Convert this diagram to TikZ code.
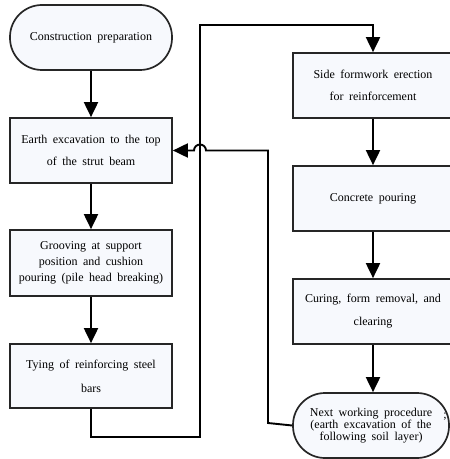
\documentclass[tikz,border=0pt]{standalone}
\usepackage{fontspec}
\setmainfont{Liberation Serif}
\usetikzlibrary{arrows.meta,shapes.misc}
\newcommand\mywsp{\spaceskip=5.5bp plus 2bp minus 1bp\relax}
\definecolor{boxfill}{RGB}{247,249,253}
\begin{document}
\begin{tikzpicture}[x=1bp,y=-1bp,
  box/.style={draw=black!85,line width=1.7bp,minimum width=162bp,align=center,
    fill=boxfill,inner sep=0pt},
  rbox/.style={box,minimum width=160bp},
  stad/.style={box,rounded corners=32bp},
  txt/.style={font=\fontsize{12bp}{#1bp}\selectfont\mywsp},
  conn/.style={line width=1.9bp,black},
  arr/.style={conn,-{Triangle[length=15bp,width=14bp]}}]
\useasboundingbox (0,0) rectangle (450,459);
% left column
\node[stad,minimum height=65bp,txt=14] (prep) at (91,37.5) {Construction preparation};
\node[box,minimum height=65bp,txt=22] (exc) at (91,150.5) {Earth excavation to the top\\of the strut beam};
\node[box,minimum height=66bp,txt=16] (groove) at (91,263) {Grooving at support\\position and cushion\\pouring (pile head breaking)};
\node[box,minimum height=64bp,txt=24] (tie) at (91,376) {Tying of reinforcing steel\\bars};
% right column
\node[rbox,minimum height=65bp,txt=22] (side) at (373,85.5) {Side formwork erection\\for reinforcement};
\node[rbox,minimum height=65bp,txt=22] (conc) at (373,198.5) {Concrete pouring};
\node[rbox,minimum height=65bp,txt=23] (cure) at (373,311.5) {Curing, form removal, and\\clearing};
\node[stad,minimum width=156bp,minimum height=65bp,txt=12] (next) at (371,425.5) {Next working procedure\\(earth excavation of the\\following soil layer)};
\node[font=\fontsize{12bp}{12bp}\selectfont,inner sep=0pt] (semi) at (445,417) {;};
% coordinates
\coordinate (a1) at (91,437);
\coordinate (a2) at (200,437);
\coordinate (a3) at (200,25);
\coordinate (a4) at (373,25);
\coordinate (b1) at (268,423);
\coordinate (b2) at (268,150.5);
\coordinate (b3) at (206,150.5);
% connectors
\draw[arr] (prep) -- (exc);
\draw[arr] (exc) -- (groove);
\draw[arr] (groove) -- (tie);
\draw[arr] (tie.south) -- (a1) -- (a2) -- (a3) -- (a4) -- (side.north);
\draw[arr] (side) -- (conc);
\draw[arr] (conc) -- (cure);
\draw[arr] (cure.south) -- (cure.south |- next.north);
\draw[arr] (next.west) -- (b1) -- (b2) -- (b3) arc[start angle=0,end angle=180,radius=6bp] -- (exc.east);
\end{tikzpicture}
\end{document}
